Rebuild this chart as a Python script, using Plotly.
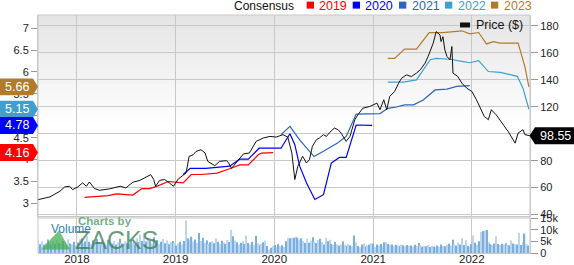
import pandas as pd
import plotly.graph_objects as go

# ---------------- data ----------------
price_dates = ["2017-08-11","2017-09-23","2017-10-30","2017-11-17","2017-12-05","2017-12-16",
 "2018-01-04","2018-01-22","2018-02-05","2018-02-16","2018-03-07","2018-03-25","2018-04-30",
 "2018-06-10","2018-07-01","2018-07-27","2018-08-22","2018-09-16","2018-10-01","2018-10-12",
 "2018-10-19","2018-11-03","2018-11-21","2018-12-09","2018-12-24","2019-01-11","2019-02-09",
 "2019-02-20","2019-03-07","2019-03-18","2019-04-05","2019-04-20","2019-04-30","2019-05-26",
 "2019-06-13","2019-07-09","2019-07-16","2019-07-27","2019-08-07","2019-09-09","2019-10-01",
 "2019-10-26","2019-11-21","2019-12-16","2020-01-08","2020-02-02","2020-02-20","2020-03-06",
 "2020-03-17","2020-03-28","2020-04-15","2020-04-29","2020-05-10","2020-05-21","2020-06-05",
 "2020-06-16","2020-07-01","2020-07-12","2020-07-22","2020-08-10","2020-08-24","2020-09-04",
 "2020-09-23","2020-10-07","2020-10-25","2020-11-05","2020-11-24","2020-12-19","2021-01-15",
 "2021-01-26","2021-02-09","2021-02-20","2021-03-03","2021-03-21","2021-04-05","2021-04-16",
 "2021-05-04","2021-05-22","2021-06-10","2021-06-24","2021-07-12","2021-07-23","2021-08-11",
 "2021-08-22","2021-09-05","2021-09-09","2021-09-16","2021-09-23","2021-10-01","2021-10-12",
 "2021-10-19","2021-10-23","2021-11-10","2021-11-25","2021-12-13","2022-01-01","2022-01-18",
 "2022-02-05","2022-02-16","2022-03-03","2022-03-14","2022-04-01","2022-04-27","2022-05-15",
 "2022-06-10","2022-06-21","2022-07-09","2022-07-16","2022-08-03"]
price_vals = [51.1,53.1,57.3,60.5,61.0,58.5,
 60.5,63.5,61.0,64.2,59.3,58.0,59.0,
 61.0,59.8,64.0,65.4,68.4,69.6,66.0,
 61.0,65.4,66.0,63.5,61.0,66.4,70.9,
 83.2,84.4,86.9,88.1,85.7,79.5,76.3,
 79.5,80.0,78.3,74.3,77.0,85.0,85.7,
 94.3,96.8,98.0,97.5,99.3,97.5,85.7,
 66.0,75.8,83.2,78.3,80.7,90.6,95.6,
 96.8,99.3,98.0,100.5,104.2,103.0,100.5,
 94.3,98.0,110.4,114.0,119.0,120.2,122.7,
 117.8,125.2,117.8,127.6,131.3,137.5,141.2,
 143.7,142.4,145.0,147.4,152.4,157.3,167.2,
 175.8,173.3,168.4,172.0,162.2,157.3,154.8,
 164.7,145.0,142.4,137.5,133.8,131.3,125.2,
 117.8,112.8,110.4,117.8,114.0,106.7,101.7,
 93.0,100.5,103.0,99.3,98.55]

c2019_dates = ["2018-01-29","2018-04-27","2018-05-27","2018-07-27","2018-08-29","2018-09-27",
 "2018-10-23","2018-12-05","2019-01-29","2019-02-28","2019-04-05","2019-06-03","2019-07-20",
 "2019-08-26","2019-09-27","2019-11-03","2019-11-14","2019-12-28"]
c2019_vals = [3.14,3.18,3.22,3.19,3.34,3.34,3.39,3.50,3.47,3.66,3.66,3.69,3.79,3.88,3.88,4.11,4.15,4.16]

c2020_dates = ["2019-01-29","2019-02-24","2019-04-23","2019-06-03","2019-07-20","2019-08-26",
 "2019-09-27","2019-10-26","2019-11-06","2020-01-26","2020-02-28","2020-03-17","2020-04-04",
 "2020-04-29","2020-05-30","2020-07-01","2020-07-30","2020-08-29","2020-09-23","2020-10-30",
 "2020-12-28"]
c2020_vals = [3.66,3.80,3.80,3.83,3.85,4.01,4.01,4.19,4.26,4.26,4.59,4.34,3.85,3.47,3.09,3.20,
 3.92,4.05,4.05,4.79,4.78]

c2021_dates = ["2020-01-26","2020-02-28","2020-04-04","2020-05-27","2020-07-01","2020-08-22",
 "2020-09-23","2020-10-30","2021-01-26","2021-02-24","2021-03-28","2021-04-27","2021-05-30",
 "2021-07-05","2021-08-18","2021-10-01","2021-11-06","2021-12-24"]
c2021_vals = [4.57,4.76,4.45,4.07,4.19,4.38,4.53,5.04,5.05,5.17,5.20,5.25,5.25,5.36,5.59,5.61,5.67,5.69]

c2022_dates = ["2021-02-24","2021-04-23","2021-06-10","2021-07-31","2021-08-22","2021-10-12",
 "2021-11-25","2021-12-24","2022-01-26","2022-03-03","2022-04-16","2022-06-18","2022-07-09",
 "2022-07-31"]
c2022_vals = [5.77,5.77,5.82,6.28,6.31,6.29,6.24,6.21,6.26,6.01,5.99,5.90,5.63,5.15]

c2023_dates = ["2021-02-24","2021-03-21","2021-04-27","2021-06-10","2021-07-27","2021-09-16",
 "2021-11-25","2021-12-24","2022-01-26","2022-02-24","2022-03-21","2022-04-16","2022-06-21",
 "2022-07-16","2022-07-31"]
c2023_vals = [6.31,6.31,6.52,6.52,6.90,6.90,6.94,6.87,6.90,6.64,6.69,6.66,6.66,6.12,5.66]

# weekly volume (thousands), first week 2017-08-11
vol_start = "2017-08-11"
vol_k = [
 5.5,3.8,4.9,3.5,4.2,5.8,4.4,3.6,5.1,4.0,5.6,4.3,3.9,5.2,4.6,3.4,5.9,4.1,3.7,4.8,3.2,
 4.5,5.9,6.3,4.2,5.0,7.2,4.8,3.9,5.5,4.1,6.0,4.6,3.8,5.3,4.4,3.6,5.7,4.9,4.0,5.2,3.7,4.5,6.1,4.3,3.5,5.0,
 4.2,3.9,5.8,4.4,3.6,6.2,4.7,7.9,5.1,8.6,4.9,6.6,5.3,4.1,6.8,4.5,5.6,3.9,4.8,6.0,4.2,5.4,3.8,4.6,5.1,4.4,
 3.2,4.1,4.8,3.6,5.2,14.0,6.3,5.5,7.0,4.9,5.8,4.3,8.6,5.1,6.6,4.4,5.4,3.9,4.6,5.0,4.2,6.2,4.8,3.8,5.3,4.5,
 3.9,5.6,4.7,10.0,7.2,5.4,4.6,3.7,4.4,5.1,3.9,7.5,4.3,3.6,4.8,3.5,7.4,4.1,3.3,3.9,4.6,5.4,3.0,1.4,2.2,3.1,
 3.4,2.4,3.8,2.9,3.3,2.6,5.0,6.5,6.3,6.6,6.5,7.0,6.6,5.8,6.3,5.2,4.3,6.1,4.4,5.4,6.8,4.9,4.3,5.6,6.1,4.7,
 3.7,6.5,5.0,5.7,3.9,3.4,4.8,3.8,3.2,3.6,4.9,3.5,3.1,3.8,3.3,2.9,7.5,4.5,3.0,2.5,3.7,4.1,2.8,3.3,3.6,4.1,
 4.0,2.5,3.6,3.2,3.9,2.8,4.6,4.7,3.9,3.4,3.7,3.1,3.5,3.2,3.0,3.6,3.3,2.9,3.4,3.1,3.2,2.8,3.5,3.0,4.3,3.3,
 2.7,3.1,2.9,3.4,2.6,3.0,2.8,2.5,3.2,2.7,3.6,3.0,2.9,3.4,4.0,3.1,5.7,3.8,3.2,4.5,3.6,6.4,3.4,5.7,3.0,2.6,
 3.8,7.5,4.4,3.6,5.0,9.0,9.4,9.7,9.9,4.6,3.8,3.5,4.1,7.1,3.9,3.4,4.0,3.6,4.2,3.5,3.3,5.4,4.1,3.8,3.6,8.7,
 3.4,4.6,8.3,3.9,3.2]

last_price = 98.55
tag_values = [("5.66", 5.66, "#b07c2c"), ("5.15", 5.15, "#3fa0d0"),
              ("4.78", 4.78, "#0000ff"), ("4.16", 4.16, "#ff0000")]
legend_years = ["2019", "2020", "2021", "2022", "2023"]
year_colors = ["#ff0000", "#0000ff", "#2b65b5", "#3fa0d0", "#b07c2c"]
left_ticks = [3, 3.5, 4, 4.5, 5, 5.5, 6, 6.5, 7]
vol_tickvals = [0, 5000, 10000, 15000]
vol_ticktext = ["0", "5k", "10k", "15k"]

# ---------------- layout geometry ----------------
W, H = 574, 265
ML, MR, MT, MB = 38, 44, 15, 11.5
PW, PH = W - ML - MR, H - MT - MB
def px(x):
    return (x - ML) / PW
def py(y):
    return (H - MB - y) / PH

FONT = "Liberation Sans, Arial, sans-serif"
GRID = "#c8c8c8"

vol_dates = pd.date_range(vol_start, periods=len(vol_k), freq="7D")
vol_vals = [v * 1000 for v in vol_k]
bar_colors = ["#7aafdf" if i % 2 else "#bcd6ee" for i in range(len(vol_vals))]

fig = go.Figure()
fig.add_trace(go.Bar(x=vol_dates, y=vol_vals, yaxis="y3", marker_color=bar_colors,
                     marker_line_width=0, hoverinfo="skip"))
series = [(c2019_dates, c2019_vals), (c2020_dates, c2020_vals), (c2021_dates, c2021_vals),
          (c2022_dates, c2022_vals), (c2023_dates, c2023_vals)]
for (d, v), col in zip(series, year_colors):
    fig.add_trace(go.Scatter(x=d, y=v, mode="lines", yaxis="y",
                             line=dict(color=col, width=1.2), hoverinfo="skip"))
fig.add_trace(go.Scatter(x=price_dates, y=price_vals, mode="lines", yaxis="y2",
                         line=dict(color="#111111", width=1), hoverinfo="skip"))

shapes = []
# background gradient of the price panel
top, bot, n = 15, 125, 22
for i in range(n):
    y0 = top + (bot - top) * i / n
    y1 = top + (bot - top) * (i + 1) / n
    g = int(229 + (255 - 229) * (i + 0.5) / n)
    shapes.append(dict(type="rect", xref="paper", yref="paper", x0=0, x1=1,
                       y0=py(y1), y1=py(y0), fillcolor=f"rgb({g},{g},{g})",
                       line_width=0, layer="below"))
# panel separator band
shapes.append(dict(type="rect", xref="paper", yref="paper", x0=0, x1=1,
                   y0=py(219.2), y1=py(216.5), fillcolor="#dcdcdc", line_width=0, layer="below"))
# borders
shapes.append(dict(type="rect", xref="paper", yref="paper", x0=0, x1=1, y0=py(217), y1=1,
                   line=dict(color=GRID, width=1), layer="below"))
shapes.append(dict(type="rect", xref="paper", yref="paper", x0=0, x1=1, y0=0, y1=py(217),
                   line=dict(color=GRID, width=1), layer="below"))

annotations = []
# left value tags
hh = 8.5 / 43.9
xb0, xb1, xp = px(0), px(33), px(38)
for txt, v, col in tag_values:
    path = (f"M {xb0},{v-hh} L {xb1},{v-hh} L {xp},{v} L {xb1},{v+hh} L {xb0},{v+hh} Z")
    shapes.append(dict(type="path", xref="paper", yref="y", path=path,
                       fillcolor=col, line_width=0, layer="above"))
    annotations.append(dict(xref="paper", yref="y", x=px(16.5), y=v, text=txt, showarrow=False,
                            font=dict(family=FONT, size=12.5, color="white"),
                            xanchor="center", yanchor="middle"))
# right price tag
hh2 = 8.5 / 1.35
rb0, rb1, rp = px(535), px(574), px(529.5)
path = (f"M {rp},{last_price} L {rb0},{last_price-hh2} L {rb1},{last_price-hh2} "
        f"L {rb1},{last_price+hh2} L {rb0},{last_price+hh2} Z")
shapes.append(dict(type="path", xref="paper", yref="y2", path=path,
                   fillcolor="#000000", line_width=0, layer="above"))
annotations.append(dict(xref="paper", yref="y2", x=px(555), y=last_price,
                        text=f"{last_price:.2f}", showarrow=False,
                        font=dict(family=FONT, size=12.5, color="white"),
                        xanchor="center", yanchor="middle"))

# legend (Consensus + years)
annotations.append(dict(xref="paper", yref="paper", x=px(296), y=py(5.5), text="Consensus",
                        showarrow=False, xanchor="right", yanchor="middle",
                        font=dict(family=FONT, size=12, color="#111")))
sq_x = [306.7, 352.7, 399, 445, 491]
for yr, col, sx in zip(legend_years, year_colors, sq_x):
    shapes.append(dict(type="rect", xref="paper", yref="paper", x0=px(sx), x1=px(sx + 7.3),
                       y0=py(8.6), y1=py(1.6), fillcolor=col, line_width=0))
    annotations.append(dict(xref="paper", yref="paper", x=px(sx + 10.5), y=py(5.5), text=yr,
                            showarrow=False, xanchor="left", yanchor="middle",
                            font=dict(family=FONT, size=12.5, color=col)))
shapes.append(dict(type="rect", xref="paper", yref="paper", x0=px(460), x1=px(470),
                   y0=py(27.5), y1=py(22.5), fillcolor="#111", line_width=0, layer="above"))
annotations.append(dict(xref="paper", yref="paper", x=px(474), y=py(25), text="Price ($)",
                        showarrow=False, xanchor="left", yanchor="middle",
                        font=dict(family=FONT, size=12.5, color="#111")))

# Zacks watermark
shapes.append(dict(type="path", xref="paper", yref="paper",
                   path=f"M {px(41)},{py(250)} L {px(59)},{py(231)} L {px(70)},{py(250)} Z",
                   fillcolor="rgba(70,175,80,0.75)", line_width=0, layer="above"))
annotations.append(dict(xref="paper", yref="paper", x=px(49), y=py(229), text="Volume",
                        showarrow=False, xanchor="left", yanchor="middle",
                        font=dict(family=FONT, size=12, color="#2a7fc0")))
annotations.append(dict(xref="paper", yref="paper", x=px(76), y=py(221.5), text="<b>Charts by</b>",
                        showarrow=False, xanchor="left", yanchor="middle",
                        font=dict(family=FONT, size=11.5, color="rgba(90,160,105,0.85)")))
annotations.append(dict(xref="paper", yref="paper", x=px(73), y=py(240), text="ZACKS",
                        showarrow=False, xanchor="left", yanchor="middle",
                        font=dict(family=FONT, size=25, color="rgba(60,125,80,0.75)")))

fig.update_layout(
    width=W, height=H, margin=dict(l=ML, r=MR, t=MT, b=MB, pad=0, autoexpand=False),
    paper_bgcolor="white", plot_bgcolor="white", showlegend=False,
    font=dict(family=FONT, size=11, color="#222"),
    bargap=0.35, shapes=shapes, annotations=annotations,
    xaxis=dict(type="date", anchor="y3", domain=[0, 1], automargin=False,
               range=["2017-08-10", "2022-08-04"], tickformat="%Y", dtick="M12",
               tick0="2018-01-01", showgrid=True, gridcolor=GRID, gridwidth=1,
               ticks="", showline=True, linecolor=GRID, zeroline=False,
               ticklabelstandoff=-5,
               tickfont=dict(size=11.5, color="#222")),
    yaxis=dict(domain=[py(217), 1], range=[2.70, 7.30], tickvals=left_ticks, automargin=False,
               showgrid=False, zeroline=False, ticks="outside", ticklen=6,
               tickcolor="#999", showline=True, linecolor=GRID,
               tickfont=dict(size=11, color="#222")),
    yaxis2=dict(overlaying="y", side="right", anchor="x", range=[38.5, 188.1], automargin=False,
                dtick=20, tick0=0, showgrid=True, gridcolor=GRID, zeroline=False,
                ticks="outside", ticklen=7, tickcolor="#999", showline=True, linecolor=GRID,
                tickfont=dict(size=11, color="#222")),
    yaxis3=dict(domain=[0, py(218.5)], side="right", anchor="x", range=[0, 15000],
                automargin=False,
                tickvals=vol_tickvals, ticktext=vol_ticktext, showgrid=False,
                zeroline=False, ticks="outside", ticklen=7, tickcolor="#999",
                showline=True, linecolor=GRID, tickfont=dict(size=11, color="#222")),
)

fig.write_html("out.html", config={"displayModeBar": False})
